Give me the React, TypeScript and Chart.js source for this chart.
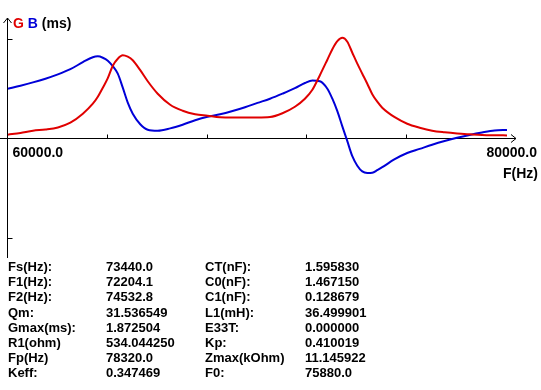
import React, { useEffect, useRef } from "react";
import { Chart, registerables } from "chart.js";

Chart.register(...registerables);

// ---- data ----
const frequencies = [
  60000, 60500, 61000, 61500, 62000, 62500, 63000, 63400, 63600, 63800,
  64000, 64200, 64400, 64600, 64800, 65000, 65300, 65600, 66000, 66500,
  67000, 67500, 68000, 68500, 69000, 69500, 70000, 70500, 71000, 71500,
  71900, 72200, 72500, 72800, 73000, 73200, 73400, 73600, 73800, 74000,
  74200, 74400, 74600, 74800, 75000, 75500, 76000, 76500, 77000, 77500,
  78000, 78500, 79000, 79500, 80000,
];

const conductanceG = [
  0.071, 0.104, 0.145, 0.167, 0.206, 0.294, 0.461, 0.647, 0.777, 0.945,
  1.121, 1.354, 1.484, 1.547, 1.521, 1.456, 1.27, 1.065, 0.833, 0.628,
  0.517, 0.452, 0.424, 0.396, 0.392, 0.392, 0.392, 0.4, 0.47, 0.591,
  0.74, 0.907, 1.177, 1.465, 1.66, 1.809, 1.8725, 1.8, 1.595, 1.391,
  1.205, 1.019, 0.824, 0.684, 0.573, 0.396, 0.275, 0.201, 0.145, 0.115,
  0.093, 0.078, 0.065, 0.06, 0.058,
];

const susceptanceB = [
  0.926, 0.982, 1.043, 1.112, 1.192, 1.289, 1.419, 1.512, 1.527, 1.502,
  1.447, 1.344, 1.205, 0.945, 0.666, 0.461, 0.266, 0.164, 0.145, 0.188,
  0.257, 0.34, 0.405, 0.45, 0.511, 0.582, 0.662, 0.74, 0.833, 0.935,
  1.032, 1.078, 1.065, 0.926, 0.74, 0.508, 0.225, -0.05, -0.329, -0.506,
  -0.612, -0.64, -0.636, -0.589, -0.534, -0.385, -0.27, -0.193, -0.115, -0.046,
  0.015, 0.067, 0.112, 0.149, 0.16,
];

const xMin = 60000;
const xMax = 80000;
const yLimit = 1.85;
const xTickValues = [64000, 68000, 72000, 76000];
const yTickValues = [-1.85, 1.85];
const xStartLabel = "60000.0";
const xEndLabel = "80000.0";
const xAxisTitle = "F(Hz)";
const titleParts = ["G", "B", "(ms)"];

const paramNames1 = ["Fs(Hz):", "F1(Hz):", "F2(Hz):", "Qm:", "Gmax(ms):", "R1(ohm)", "Fp(Hz)", "Keff:"];
const paramValues1 = ["73440.0", "72204.1", "74532.8", "31.536549", "1.872504", "534.044250", "78320.0", "0.347469"];
const paramNames2 = ["CT(nF):", "C0(nF):", "C1(nF):", "L1(mH):", "E33T:", "Kp:", "Zmax(kOhm)", "F0:"];
const paramValues2 = ["1.595830", "1.467150", "0.128679", "36.499901", "0.000000", "0.410019", "11.145922", "75880.0"];

const RED = "#e00000";
const BLUE = "#0000d8";
const FONT = "bold 14px 'Liberation Sans', Arial, sans-serif";

const axesPlugin = {
  id: "customAxes",
  beforeDatasetsDraw(chart: any) {
    const ctx = chart.ctx;
    const xs = chart.scales.x;
    const ys = chart.scales.y;
    const ax = Math.round(xs.getPixelForValue(xMin)) - 0.5;
    const ay = Math.floor(ys.getPixelForValue(0)) + 0.5;
    const xEnd = xs.getPixelForValue(xMax);
    ctx.save();
    ctx.strokeStyle = "#000";
    ctx.lineWidth = 1;
    ctx.beginPath();
    // y axis
    ctx.moveTo(ax, 18);
    ctx.lineTo(ax, 258);
    ctx.moveTo(ax - 4, 23);
    ctx.lineTo(ax, 18);
    ctx.lineTo(ax + 4, 23);
    // x axis
    ctx.moveTo(0, ay);
    ctx.lineTo(xEnd + 9, ay);
    ctx.moveTo(xEnd + 4, ay - 4);
    ctx.lineTo(xEnd + 9, ay);
    ctx.lineTo(xEnd + 4, ay + 4);
    // x ticks
    for (const v of xTickValues) {
      const px = Math.round(xs.getPixelForValue(v)) - 0.5;
      ctx.moveTo(px, ay - 4);
      ctx.lineTo(px, ay);
    }
    // y ticks
    for (const v of yTickValues) {
      const py = Math.floor(ys.getPixelForValue(v)) + 0.5;
      ctx.moveTo(ax, py);
      ctx.lineTo(ax + 5, py);
    }
    ctx.stroke();

    ctx.font = FONT;
    ctx.textBaseline = "alphabetic";
    // title G B (ms)
    let tx = 13;
    const colors = [RED, BLUE, "#000"];
    titleParts.forEach((t, i) => {
      ctx.fillStyle = colors[i];
      ctx.textAlign = "left";
      ctx.fillText(t, tx, 28);
      tx += ctx.measureText(t + " ").width;
    });
    ctx.fillStyle = "#000";
    ctx.textAlign = "left";
    ctx.fillText(xStartLabel, ax + 5, 157);
    ctx.textAlign = "right";
    ctx.fillText(xEndLabel, xEnd + 30, 157);
    ctx.fillText(xAxisTitle, xEnd + 31, 178);
    ctx.restore();
  },
};

export default function App() {
  const canvasRef = useRef<HTMLCanvasElement | null>(null);

  useEffect(() => {
    const canvas = canvasRef.current;
    if (!canvas) return;
    const chart = new Chart(canvas, {
      type: "line",
      data: {
        labels: frequencies,
        datasets: [
          {
            label: "G",
            data: frequencies.map((f, i) => ({ x: f, y: conductanceG[i] })),
            borderColor: RED,
            borderWidth: 2,
            pointRadius: 0,
            cubicInterpolationMode: "monotone",
            fill: false,
            clip: 10,
          },
          {
            label: "B",
            data: frequencies.map((f, i) => ({ x: f, y: susceptanceB[i] })),
            borderColor: BLUE,
            borderWidth: 2,
            pointRadius: 0,
            cubicInterpolationMode: "monotone",
            fill: false,
            clip: 10,
          },
        ],
      },
      options: {
        responsive: false,
        animation: false,
        devicePixelRatio: 1,
        layout: { padding: { left: 8, right: 34, top: 39, bottom: 152 } },
        plugins: { legend: { display: false }, tooltip: { enabled: false } },
        scales: {
          x: { type: "linear", min: xMin, max: xMax, display: false },
          y: { type: "linear", min: -yLimit, max: yLimit, display: false },
        },
      },
      plugins: [axesPlugin],
    });
    return () => chart.destroy();
  }, []);

  const colStyle = (left: number): React.CSSProperties => ({
    position: "absolute",
    left,
    top: 259,
    font: "bold 13px 'Liberation Sans', Arial, sans-serif",
    lineHeight: "15.2px",
    color: "#000",
    whiteSpace: "pre",
  });

  return (
    <div style={{ position: "absolute", left: 0, top: 0, width: 541, height: 390, background: "#fff", overflow: "hidden" }}>
      <canvas ref={canvasRef} width={541} height={390} style={{ display: "block", width: 541, height: 390 }} />
      <div style={colStyle(8)}>{paramNames1.map((t) => <div key={t}>{t}</div>)}</div>
      <div style={colStyle(106)}>{paramValues1.map((t, i) => <div key={i}>{t}</div>)}</div>
      <div style={colStyle(205)}>{paramNames2.map((t) => <div key={t}>{t}</div>)}</div>
      <div style={colStyle(305)}>{paramValues2.map((t, i) => <div key={i}>{t}</div>)}</div>
    </div>
  );
}
